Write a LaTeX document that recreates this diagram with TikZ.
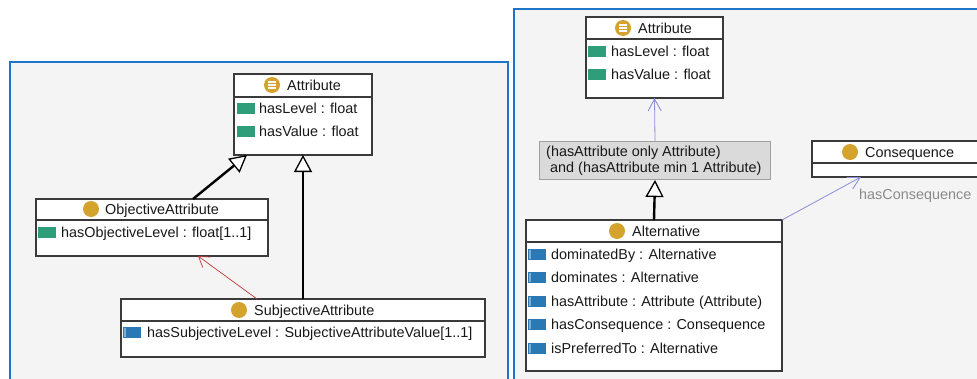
\documentclass[tikz,border=0pt]{standalone}
\usepackage{fontspec}
\setmainfont{Liberation Sans}
\usetikzlibrary{arrows.meta}
\definecolor{panelbg}{HTML}{F4F4F4}
\definecolor{panelbd}{HTML}{1E74C8}
\definecolor{boxbd}{HTML}{3A3A3A}
\definecolor{gold}{HTML}{D4A32E}
\definecolor{dgreen}{HTML}{2E9E7A}
\definecolor{oblue}{HTML}{2A78B4}
\definecolor{oblue2}{HTML}{7FAED0}
\definecolor{redln}{HTML}{C03838}
\definecolor{purln}{HTML}{8C8CD8}
\definecolor{graybox}{HTML}{DADADA}
\definecolor{grayboxbd}{HTML}{A0A0A0}
\definecolor{lblgray}{HTML}{8A8A8A}
\tikzset{
  panel/.style={fill=panelbg, draw=panelbd, line width=2.5pt},
  cls/.style={draw=boxbd, fill=white, line width=1.3pt, anchor=north west, inner sep=0pt, outer sep=0pt},
  divln/.style={draw=boxbd, line width=1.3pt},
  txt/.style={font=\fontsize{14.4pt}{16pt}\selectfont, inner sep=0pt, anchor=base west, yshift=-5.2pt, text=black!90},
  lbl/.style={txt, text=lblgray},
  gen/.style={line width=2.4pt, -{Triangle[open, length=17pt, width=18pt, line width=1.3pt, fill=white]}},
  redarr/.style={draw=redln, line width=0.7pt, -{Straight Barb[length=10pt, width=13pt, line width=0.7pt]}},
  purarr/.style={draw=purln, line width=0.8pt, -{Straight Barb[length=12pt, width=13pt, line width=0.9pt]}},
}
\newcommand{\dpicon}[2]{\fill[dgreen] (#1,#2-5.5) rectangle (#1+18,#2+5.5);}
\newcommand{\opicon}[2]{\fill[oblue] (#1,#2-5.5) rectangle (#1+18,#2+5.5);\fill[oblue2] (#1+1,#2-4.5) rectangle (#1+3,#2+4.5);}
\newcommand{\clsicon}[2]{\fill[gold] (#1,#2) circle (8pt);}
\newcommand{\enumicon}[2]{\fill[gold] (#1,#2) circle (8pt);
  \draw[white, line width=1.2pt] (#1-4,#2-3) -- (#1+4,#2-3) (#1-4,#2) -- (#1+4,#2) (#1-4,#2+3) -- (#1+4,#2+3);}
\begin{document}
\begin{tikzpicture}[x=1pt, y=-1pt]
\useasboundingbox (0,0) rectangle (977,378);
\clip (0,0) rectangle (977,378);
\fill[white] (0,0) rectangle (977,378);
% panels
\draw[panel] (10,62) rectangle (508,395);
\draw[panel] (514,9) rectangle (995,395);

% ===== Left panel =====
% Attribute
\node[cls, minimum width=138pt, minimum height=81pt] (la) at (234,74) {};
\draw[divln] (la.west |- 0,97) -- (la.east |- 0,97);
\enumicon{272}{85}
\node[txt] (lat) at (287,85) {Attribute};
\dpicon{237}{108}
\node[txt] (la1) at (259,108) {hasLevel : float};
\dpicon{237}{131}
\node[txt] (la2) at (259,131) {hasValue : float};

% ObjectiveAttribute
\node[cls, minimum width=232pt, minimum height=57pt] (lo) at (36,199) {};
\draw[divln] (lo.west |- 0,220) -- (lo.east |- 0,220);
\clsicon{91}{209}
\node[txt] (lot) at (105,209) {ObjectiveAttribute};
\dpicon{38}{232}
\node[txt] (lo1) at (61,232) {hasObjectiveLevel : float[1..1]};

% SubjectiveAttribute
\node[cls, minimum width=364pt, minimum height=58pt] (ls) at (121,299) {};
\draw[divln] (ls.west |- 0,321) -- (ls.east |- 0,321);
\clsicon{239}{310}
\node[txt] (lst) at (254,310) {SubjectiveAttribute};
\opicon{123}{332}
\node[txt] (ls1) at (147,332) {hasSubjectiveLevel : SubjectiveAttributeValue[1..1]};

% connectors left
\draw[gen] (lo.north -| 193,0) -- (la.south -| 247,0);
\draw[gen] (ls.north -| 303,0) -- (la.south -| 303,0);
\draw[redarr] (ls.north -| 257,0) -- (lo.south -| 198,0);

% ===== Right panel =====
% Attribute
\node[cls, minimum width=137pt, minimum height=81pt] (ra) at (586,17) {};
\draw[divln] (ra.west |- 0,39) -- (ra.east |- 0,39);
\enumicon{623}{28}
\node[txt] (rat) at (638,28) {Attribute};
\dpicon{588}{51}
\node[txt] (ra1) at (611,51) {hasLevel : float};
\dpicon{588}{74}
\node[txt] (ra2) at (611,74) {hasValue : float};

% restriction box
\node[draw=grayboxbd, fill=graybox, line width=1pt, anchor=north west, inner sep=0pt, minimum width=231pt, minimum height=38pt] (gb) at (539,141) {};
\node[txt] (gb1) at (546,151) {(hasAttribute only Attribute)};
\node[txt] (gb2) at (550,167) {and (hasAttribute min 1 Attribute)};

% Consequence
\node[cls, minimum width=180pt, minimum height=36pt] (cons) at (812,141) {};
\draw[divln] (cons.west |- 0,163) -- (cons.east |- 0,163);
\clsicon{850}{152}
\node[txt] (const) at (865,152) {Consequence};

% Alternative
\node[cls, minimum width=256pt, minimum height=151pt] (alt) at (526,220) {};
\draw[divln] (alt.west |- 0,242) -- (alt.east |- 0,242);
\clsicon{617}{231}
\node[txt] (altt) at (632,231) {Alternative};
\opicon{528}{254}
\node[txt] (alt1) at (551,254) {dominatedBy : Alternative};
\opicon{528}{277}
\node[txt] (alt2) at (551,277) {dominates : Alternative};
\opicon{528}{301}
\node[txt] (alt3) at (551,301) {hasAttribute : Attribute (Attribute)};
\opicon{528}{324}
\node[txt] (alt4) at (551,324) {hasConsequence : Consequence};
\opicon{528}{348}
\node[txt] (alt5) at (551,348) {isPreferredTo : Alternative};

% connectors right
\draw[purarr] (gb.north) -- (ra.south);
\draw[gen] (alt.north) -- (gb.south);
\draw[purarr] (alt.north east) -- (cons.south -| 861,0);
\node[lbl] (hcl) at (859,194) {hasConsequence};
\end{tikzpicture}
\end{document}
